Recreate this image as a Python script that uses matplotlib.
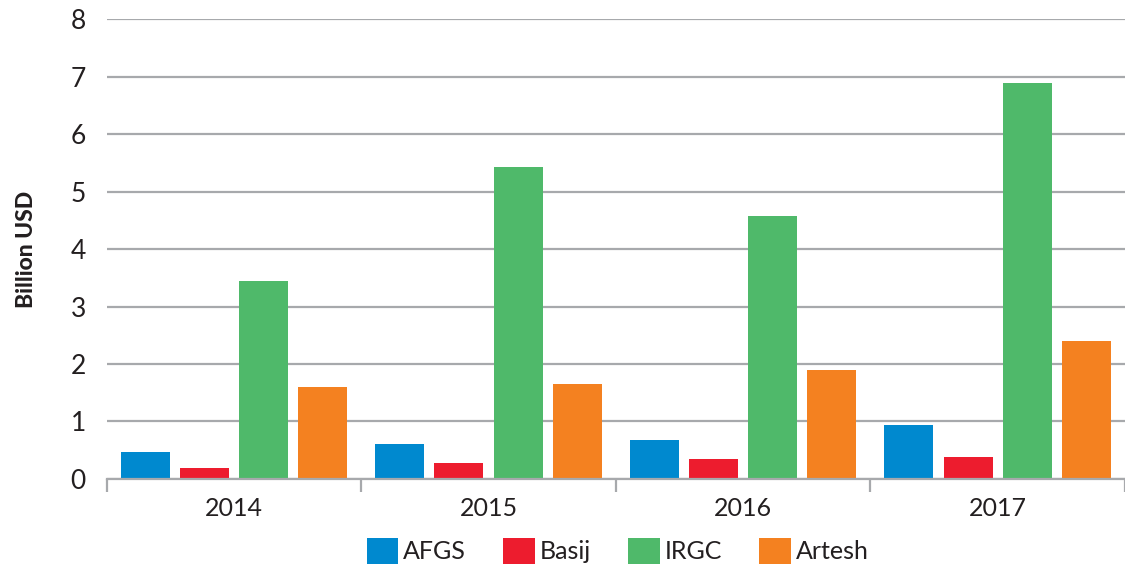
import matplotlib.pyplot as plt
import numpy as np

# values (billion USD)
years = ["2014", "2015", "2016", "2017"]
series_names = ["AFGS", "Basij", "IRGC", "Artesh"]
afgs = [0.47, 0.61, 0.67, 0.94]
basij = [0.19, 0.28, 0.34, 0.38]
irgc = [3.44, 5.43, 4.58, 6.89]
artesh = [1.60, 1.65, 1.90, 2.40]
colors = ["#0089CF", "#ED1C2E", "#4FB96A", "#F48120"]

plt.rcParams['font.family'] = ['Lato', 'DejaVu Sans']
text_col = "#231f20"
grid_col = "#a7a9ac"


def plot_budget():
    """Draws the grouped bar chart"""
    fig = plt.figure(figsize=(11.25, 5.68), dpi=100)
    ax = fig.add_axes([0.0948, 0.1567, 0.9052, 0.8098])
    x = np.arange(len(years))
    step, width = 0.2325, 0.192
    offsets = [-1.5 * step, -0.5 * step, 0.5 * step, 1.5 * step]
    data = [afgs, basij, irgc, artesh]
    for vals, off, c, name in zip(data, offsets, colors, series_names):
        ax.bar(x + off, vals, width, color=c, label=name, zorder=3)

    ax.set_ylim(0, 8)
    ax.set_xlim(-0.5, 3.476)
    ax.set_yticks(range(0, 9))
    ax.yaxis.grid(True, color=grid_col, linewidth=1.6, zorder=0)
    ax.set_axisbelow(True)
    for s in ['top', 'right', 'left']:
        ax.spines[s].set_visible(False)
    ax.spines['bottom'].set_color(grid_col)
    ax.spines['bottom'].set_linewidth(1.6)
    ax.spines['bottom'].set_zorder(4)

    ax.set_xticks(x)
    ax.set_xticklabels(years)
    ax.set_xticks(np.arange(-0.5, 3.6, 1), minor=True)
    ax.tick_params(axis='x', which='major', length=0, pad=13, labelsize=18,
                   labelcolor=text_col)
    ax.tick_params(axis='x', which='minor', length=9, width=1.6, color=grid_col)
    ax.tick_params(axis='y', length=0, pad=15, labelsize=19, labelcolor=text_col)

    ax.set_ylabel("Billion USD", fontsize=16.5, fontweight='black', color=text_col,
                  labelpad=24)

    leg = fig.legend(loc='center', bbox_to_anchor=(0.549, 0.03), ncol=4,
                     frameon=False, fontsize=18, handlelength=1.25,
                     handleheight=1.25, handletextpad=0.2, columnspacing=1.5,
                     borderaxespad=0)
    for t in leg.get_texts():
        t.set_color(text_col)

    fig.savefig("out.png", dpi=100)
    plt.close(fig)


plot_budget()
